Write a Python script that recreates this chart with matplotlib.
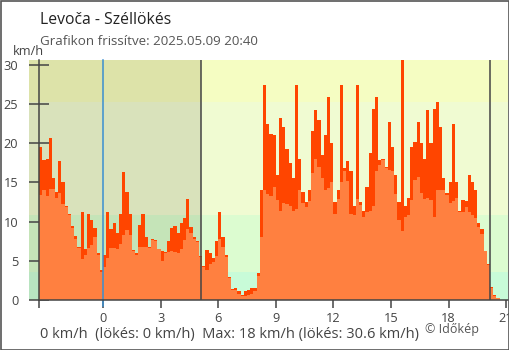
import numpy as np
import matplotlib
matplotlib.use("Agg")
import matplotlib.pyplot as plt
from matplotlib.patches import Rectangle

plt.rcParams['font.family'] = ['Open Sans', 'DejaVu Sans']

# 10-minute samples, starting 20:40 the previous day (hours relative to midnight)
t_start = -10 / 3
step = 1 / 6

wind_mean = [
    13.4, 14.0, 13.2, 14.2, 14.2, 13.0, 13.6, 12.2, 11.9, 10.8, 9.2, 7.8, 6.6,
    5.2, 5.7, 6.6, 7.0, 8.0, 5.8, 3.6, 4.2, 5.4, 6.6, 6.6, 6.5,
    7.1, 8.3, 8.9, 8.3, 6.2, 5.8, 6.8, 6.8, 6.7, 6.6, 7.6, 7.5, 6.5, 5.0,
    6.0, 6.1, 6.2, 6.1, 6.0, 6.5, 7.6, 9.0, 8.6, 7.8,
    7.4, 5.5, 4.2, 3.8, 4.6, 4.9, 5.6, 7.8, 6.8, 5.5, 2.8, 1.3, 1.3, 0.8,
    0.5, 0.55, 0.6, 0.8, 1.2, 3.0, 8.0, 14.0, 13.5, 13.2,
    14.4, 12.8, 11.4, 12.4, 12.2, 12.0, 11.3, 11.6, 14.0, 12.4, 11.8, 12.6,
    16.2, 18.0, 17.0, 15.5, 14.0, 14.3, 15.0, 11.0, 12.9, 15.0, 16.4, 15.2, 11.0,
    10.9, 12.9, 12.1, 10.6, 11.2, 11.3, 12.0, 16.5, 17.2, 17.8, 16.8, 16.6,
    16.5, 13.5, 10.2, 8.8, 10.6, 10.8, 12.8, 15.3, 15.7, 13.6, 12.9, 13.0,
    12.7, 10.6, 14.0, 14.0, 14.0, 13.4, 12.4, 12.6, 13.0, 11.2, 11.2, 11.8,
    11.2, 10.9, 10.5, 9.3, 8.4, 6.2, 4.5, 1.5, 0.5, 0.2,
]
wind_gust = [
    19.5, 17.9, 18.0, 20.6, 15.5, 13.8, 17.7, 15.0, 12.0, 11.0, 9.4, 8.1, 6.8,
    11.2, 6.5, 11.0, 10.2, 9.2, 6.0, 3.8, 5.8, 11.2, 9.1, 9.8, 8.5,
    11.0, 16.3, 13.8, 11.0, 6.4, 6.0, 9.5, 11.0, 8.0, 6.8, 7.8, 7.6, 6.5, 6.3,
    6.1, 7.5, 9.2, 9.4, 8.6, 9.8, 10.5, 12.9, 9.3, 8.0,
    7.5, 5.6, 4.3, 6.4, 6.0, 5.4, 7.5, 11.2, 8.0, 5.7, 2.9, 1.4, 1.5, 1.2,
    0.7, 1.1, 1.3, 1.5, 1.5, 3.5, 14.0, 27.4, 22.5, 21.2,
    21.0, 16.0, 23.2, 22.0, 19.3, 17.5, 15.5, 27.4, 18.0, 13.8, 12.5, 14.0,
    21.5, 24.2, 23.0, 18.5, 21.0, 25.9, 20.0, 12.5, 14.0, 27.4, 16.8, 17.7, 16.5,
    12.0, 27.4, 12.5, 11.4, 14.4, 18.7, 24.4, 25.9, 17.8, 18.0, 17.0, 22.7,
    19.5, 15.9, 12.5, 30.6, 12.0, 13.0, 19.5, 20.1, 22.7, 20.0, 18.0, 24.2,
    20.0, 24.4, 25.2, 22.0, 15.5, 13.6, 15.0, 22.5, 15.0, 11.4, 12.8, 12.6,
    16.0, 15.0, 14.0, 9.8, 9.0, 6.3, 4.6, 1.6, 0.6, 0.3,
]

x_ticks = [0, 3, 6, 9, 12, 15, 18, 21]
y_ticks = [0, 5, 10, 15, 20, 25, 30]
sunrise, sunset = 5.08, 20.15

# wind bands (1, 3, 7 m/s) with day / night colours
band_edges = [0, 3.6, 10.8, 25.2, 31]
day_colors = ['#c8fbd8', '#dcfcd0', '#f0fbd2', '#f5fdc2']
night_colors = ['#b8e4c0', '#c5e4b8', '#d9e2bb', '#dde3a9']

title = "Levoča - Széllökés"
subtitle = "Grafikon frissítve: 2025.05.09 20:40"
footer = "0 km/h  (lökés: 0 km/h)  Max: 18 km/h (lökés: 30.6 km/h)"

W, H = 510, 350
fig = plt.figure(figsize=(W / 100, H / 100), dpi=100)
ax = fig.add_axes([29 / W, 50 / H, 479 / W, 240 / H])
x0, x1 = -3.86, 21.1
ax.set_xlim(x0, x1)
ax.set_ylim(0, 30.6)

for lo, hi, dc, nc in zip(band_edges[:-1], band_edges[1:], day_colors, night_colors):
    ax.axhspan(lo, hi, color=dc, lw=0, zorder=0)
    ax.axhspan(lo, hi, xmin=0, xmax=(sunrise - x0) / (x1 - x0), color=nc, lw=0, zorder=0)

n = len(wind_mean)
t = t_start + step * np.arange(n + 1)
ax.fill_between(t, np.append(wind_gust, wind_gust[-1]), step='post',
                color='#ff4500', lw=0, zorder=2)
ax.fill_between(t, np.append(wind_mean, wind_mean[-1]), step='post',
                color='#ff8040', lw=0, zorder=3)

ax.axvline(sunrise, color='#444444', lw=1.1, zorder=4)
ax.axvline(sunset, color='#444444', lw=1.1, zorder=4)
ax.plot([0, 0], [-0.8, 30.6], color='#3a8fd0', lw=1.1, zorder=4, clip_on=False)

for s in ['top', 'right']:
    ax.spines[s].set_visible(False)
ax.spines['left'].set_position(('data', t_start))
ax.spines['left'].set_bounds(0, 30.6)
ax.spines['bottom'].set_bounds(t_start, x1)
for s in ['left', 'bottom']:
    ax.spines[s].set_color('#444444')
    ax.spines[s].set_linewidth(1.1)
    ax.spines[s].set_zorder(5)

ax.set_yticks(y_ticks)
ax.set_yticklabels([str(v) for v in y_ticks])
ax.tick_params(axis='y', direction='inout', length=14, width=1.1, color='#444444',
               labelsize=9.2, labelcolor='#444444', pad=8)
ax.set_xticks([t_start] + x_ticks)
ax.set_xticklabels([''] + [str(v) for v in x_ticks])
ax.tick_params(axis='x', direction='out', length=6, width=1.1, color='#444444',
               labelsize=9.2, labelcolor='#444444', pad=2.5)
ax.xaxis.get_major_ticks()[1].tick1line.set_color('#3a8fd0')

def px_text(x, y, s, **kw):
    fig.text(x / W, 1 - y / H, s, va='baseline', **kw)

px_text(40, 24, title, fontsize=11.3, color='#222222')
px_text(40.5, 45, subtitle, fontsize=9.6, color='#555555')
px_text(12.5, 55, "km/h", fontsize=9.2, color='#444444')
px_text(40, 338, footer, fontsize=10.5, color='#444444')
px_text(425, 333, "© Időkép", fontsize=9.0, color='#555555')

fig.patches.append(Rectangle((0.5 / W, 0.5 / H), 1 - 1.5 / W, 1 - 1.5 / H,
                             transform=fig.transFigure, fill=False,
                             edgecolor='#555555', lw=1.2))

fig.savefig('out.png', dpi=100)
